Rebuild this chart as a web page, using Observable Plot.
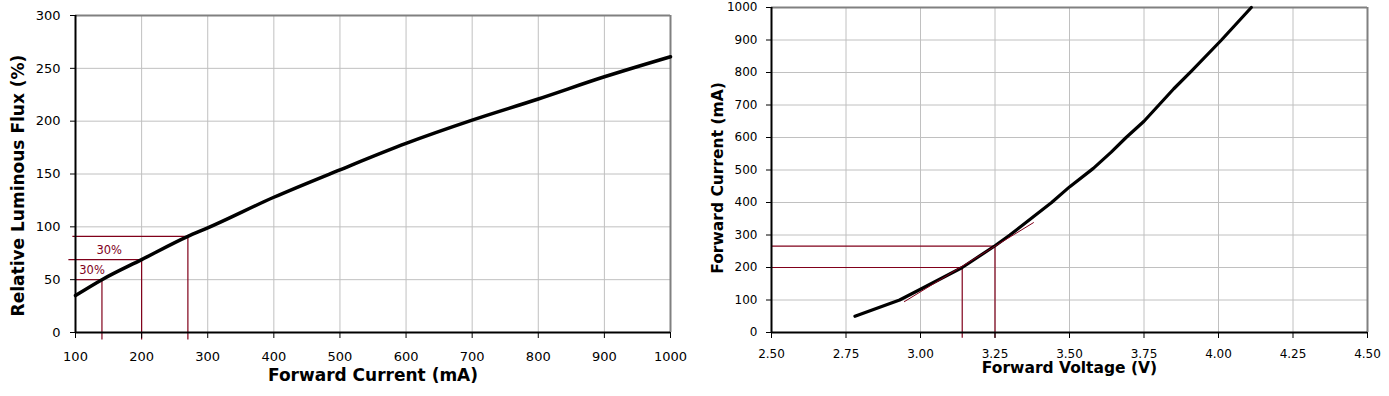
<!DOCTYPE html>
<html>
<head>
<meta charset="utf-8">
<script src="https://cdn.jsdelivr.net/npm/d3@7"></script>
<script src="https://cdn.jsdelivr.net/npm/@observablehq/plot@0.6"></script>
<style>
  html, body { margin: 0; padding: 0; background: #fff; }
  #wrap { display: flex; flex-direction: row; width: 1389px; height: 396px; }
</style>
</head>
<body>
<div id="wrap"></div>
<script>
// ---------- Left chart data: Relative Luminous Flux vs Forward Current ----------
const fluxCurrent = [100, 140, 200, 270, 300, 400, 500, 600, 700, 800, 900, 1000];
const fluxRelative = [35, 50, 69, 91, 99, 128, 154, 179, 201, 221, 242, 261];
const fluxTicksX = [100, 200, 300, 400, 500, 600, 700, 800, 900, 1000];
const fluxTicksY = [0, 50, 100, 150, 200, 250, 300];
// annotation guide lines (data values)
const fluxGuideY = [50, 69, 91];
const fluxGuideXStart = [100, 90, 96];
const fluxGuideXEnd = [140, 200, 270];
const fluxGuideBottom = -7;
const fluxLabels = ["30%", "30%"];
const fluxLabelX = [151, 125];
const fluxLabelY = [78, 58.5];

// ---------- Right chart data: Forward Current vs Forward Voltage ----------
const vfVoltage = [2.78, 2.93, 3.00, 3.14, 3.25, 3.30, 3.44, 3.50, 3.58, 3.64, 3.69, 3.75, 3.80, 3.85, 3.91, 4.01, 4.11];
const vfCurrent = [50, 100, 133, 200, 267, 300, 400, 448, 505, 555, 600, 650, 700, 750, 805, 900, 1000];
const vfTicksX = [2.50, 2.75, 3.00, 3.25, 3.50, 3.75, 4.00, 4.25, 4.50];
const vfTicksY = [0, 100, 200, 300, 400, 500, 600, 700, 800, 900, 1000];
const vfGuideY = [200, 266];
const vfGuideX = [3.14, 3.25];
const vfGuideXStart = 2.5;
const vfGuideBottom = -18;
const vfTangentV = [2.946, 3.379];
const vfTangentI = [95, 338];

const RED = "#80001a";
const GRID = "#c0c0c0";
const BORDER = "#808080";

// build tables
const fluxData = fluxCurrent.map((x, i) => ({x, y: fluxRelative[i]}));
const fluxH = fluxGuideY.map((y, i) => ({y, x1: fluxGuideXStart[i], x2: fluxGuideXEnd[i]}));
const fluxV = fluxGuideXEnd.map((x, i) => ({x, y1: fluxGuideBottom, y2: fluxGuideY[i]}));
const fluxLab = fluxLabels.map((t, i) => ({t, x: fluxLabelX[i], y: fluxLabelY[i]}));

const vfData = vfVoltage.map((x, i) => ({x, y: vfCurrent[i]}));
const vfH = vfGuideY.map((y, i) => ({y, x1: vfGuideXStart, x2: vfGuideX[i]}));
const vfV = vfGuideX.map((x, i) => ({x, y1: vfGuideBottom, y2: vfGuideY[i]}));
const vfTan = vfTangentV.map((x, i) => ({x, y: vfTangentI[i]}));

const left = Plot.plot({
  width: 690, height: 396,
  marginLeft: 75, marginRight: 20, marginTop: 15, marginBottom: 64,
  style: {fontFamily: "DejaVu Sans", fontSize: "13px", color: "#000", background: "#fff"},
  x: {domain: [100, 1000]},
  y: {domain: [0, 300]},
  marks: [
    Plot.gridX(fluxTicksX, {stroke: GRID, strokeOpacity: 1, strokeWidth: 1}),
    Plot.gridY(fluxTicksY, {stroke: GRID, strokeOpacity: 1, strokeWidth: 1}),
    Plot.ruleY([300], {stroke: BORDER, strokeWidth: 2}),
    Plot.ruleX([1000], {stroke: BORDER, strokeWidth: 2}),
    Plot.ruleY(fluxH, {y: "y", x1: "x1", x2: "x2", stroke: RED, strokeWidth: 1.2}),
    Plot.ruleX(fluxV, {x: "x", y1: "y1", y2: "y2", stroke: RED, strokeWidth: 1.2}),
    Plot.text(fluxLab, {x: "x", y: "y", text: "t", fill: RED, fontSize: 11.5}),
    Plot.line(fluxData, {x: "x", y: "y", stroke: "#000", strokeWidth: 3.5, curve: "monotone-x"}),
    Plot.ruleX([100], {stroke: "#000", strokeWidth: 2}),
    Plot.ruleY([0], {stroke: "#000", strokeWidth: 2}),
    Plot.axisX({ticks: fluxTicksX, tickFormat: "d", tickSize: 6, tickPadding: 13, fontSize: 13, label: null}),
    Plot.axisY({ticks: fluxTicksY, tickFormat: "d", tickSize: 5, tickPadding: 10, fontSize: 13, label: null}),
    Plot.text(["Forward Current (mA)"], {frameAnchor: "bottom", textAnchor: "middle", lineAnchor: "middle", dy: 43, fontSize: 17, fontWeight: "bold", fill: "#000"}),
    Plot.text(["Relative Luminous Flux (%)"], {frameAnchor: "left", textAnchor: "middle", lineAnchor: "middle", rotate: -90, dx: -57, dy: 11.5, fontSize: 17, fontWeight: "bold", fill: "#000"})
  ]
});

const right = Plot.plot({
  width: 699, height: 396,
  marginLeft: 81, marginRight: 22, marginTop: 7, marginBottom: 64,
  style: {fontFamily: "DejaVu Sans", fontSize: "12px", color: "#000", background: "#fff"},
  x: {domain: [2.5, 4.5]},
  y: {domain: [0, 1000]},
  marks: [
    Plot.gridX(vfTicksX, {stroke: GRID, strokeOpacity: 1, strokeWidth: 1}),
    Plot.gridY(vfTicksY, {stroke: GRID, strokeOpacity: 1, strokeWidth: 1}),
    Plot.ruleY([1000], {stroke: BORDER, strokeWidth: 2}),
    Plot.ruleX([4.5], {stroke: BORDER, strokeWidth: 2}),
    Plot.ruleY(vfH, {y: "y", x1: "x1", x2: "x2", stroke: RED, strokeWidth: 1.2}),
    Plot.ruleX(vfV, {x: "x", y1: "y1", y2: "y2", stroke: RED, strokeWidth: 1.2}),
    Plot.line(vfData, {x: "x", y: "y", stroke: "#000", strokeWidth: 3.2, curve: "linear", strokeLinejoin: "round"}),
    Plot.line(vfTan, {x: "x", y: "y", stroke: RED, strokeWidth: 1}),
    Plot.ruleX([2.5], {stroke: "#000", strokeWidth: 2}),
    Plot.ruleY([0], {stroke: "#000", strokeWidth: 2}),
    Plot.axisX({ticks: vfTicksX, tickFormat: d3.format(".2f"), tickSize: 6, tickPadding: 10.5, fontSize: 12, label: null}),
    Plot.axisY({ticks: vfTicksY, tickFormat: "d", tickSize: 5, tickPadding: 9, fontSize: 12, label: null}),
    Plot.text(["Forward Voltage (V)"], {frameAnchor: "bottom", textAnchor: "middle", lineAnchor: "middle", dy: 36, fontSize: 15.5, fontWeight: "bold", fill: "#000"}),
    Plot.text(["Forward Current (mA)"], {frameAnchor: "left", textAnchor: "middle", lineAnchor: "middle", rotate: -90, dx: -53, dy: 8, fontSize: 15.5, fontWeight: "bold", fill: "#000"})
  ]
});

document.getElementById("wrap").append(left, right);
</script>
</body>
</html>
